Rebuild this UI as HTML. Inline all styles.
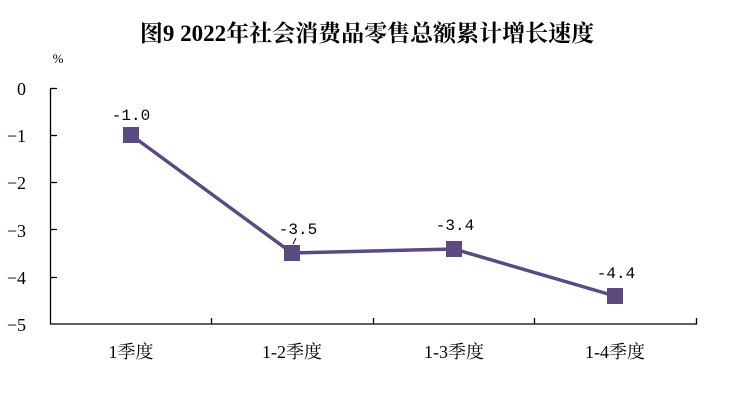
<!DOCTYPE html><html><head><meta charset="utf-8"><style>body{margin:0;background:#fff}</style></head><body>
<svg width="732" height="404" xmlns="http://www.w3.org/2000/svg" font-family="'Liberation Serif','Noto Serif CJK SC',serif">
<text x="367" y="41" text-anchor="middle" font-size="23" font-weight="bold">图9 2022年社会消费品零售总额累计增长速度</text>
<text x="58" y="63" text-anchor="middle" font-size="13">%</text>
<g font-size="18" text-anchor="end">
<text x="26" y="95">0</text><text x="26" y="142">−1</text><text x="26" y="189">−2</text><text x="26" y="237">−3</text><text x="26" y="284">−4</text><text x="26" y="331">−5</text></g>
<g stroke="#000" stroke-width="1.3">
<line x1="50.5" y1="88" x2="50.5" y2="324"/>
<line x1="50" y1="324" x2="697" y2="324"/>
<line x1="50" y1="88.5" x2="57" y2="88.5"/><line x1="50" y1="135.5" x2="57" y2="135.5"/><line x1="50" y1="182.5" x2="57" y2="182.5"/><line x1="50" y1="229.5" x2="57" y2="229.5"/><line x1="50" y1="277.5" x2="57" y2="277.5"/>
<line x1="211.5" y1="324" x2="211.5" y2="318"/><line x1="373.5" y1="324" x2="373.5" y2="318"/><line x1="534.5" y1="324" x2="534.5" y2="318"/><line x1="696.5" y1="324" x2="696.5" y2="318"/>
</g>
<g font-size="18" text-anchor="middle">
<text x="131" y="358">1季度</text><text x="292" y="358">1-2季度</text><text x="454" y="358">1-3季度</text><text x="615" y="358">1-4季度</text></g>
<polyline points="131,135 292,253 454,249 615,296" fill="none" stroke="#5b4a80" stroke-width="3.5"/>
<g fill="#5b4a80">
<rect x="123" y="127" width="16" height="16"/><rect x="284" y="245" width="16" height="16"/><rect x="446" y="241" width="16" height="16"/><rect x="607" y="288" width="16" height="16"/></g>
<g font-size="16" text-anchor="middle" font-family="'Liberation Mono',monospace">
<text x="131" y="120">-1.0</text><text x="298" y="234">-3.5</text><text x="455" y="230">-3.4</text><text x="616" y="278">-4.4</text></g>
<line x1="293" y1="244" x2="296" y2="238" stroke="#000" stroke-width="1"/>
</svg>
</body></html>
